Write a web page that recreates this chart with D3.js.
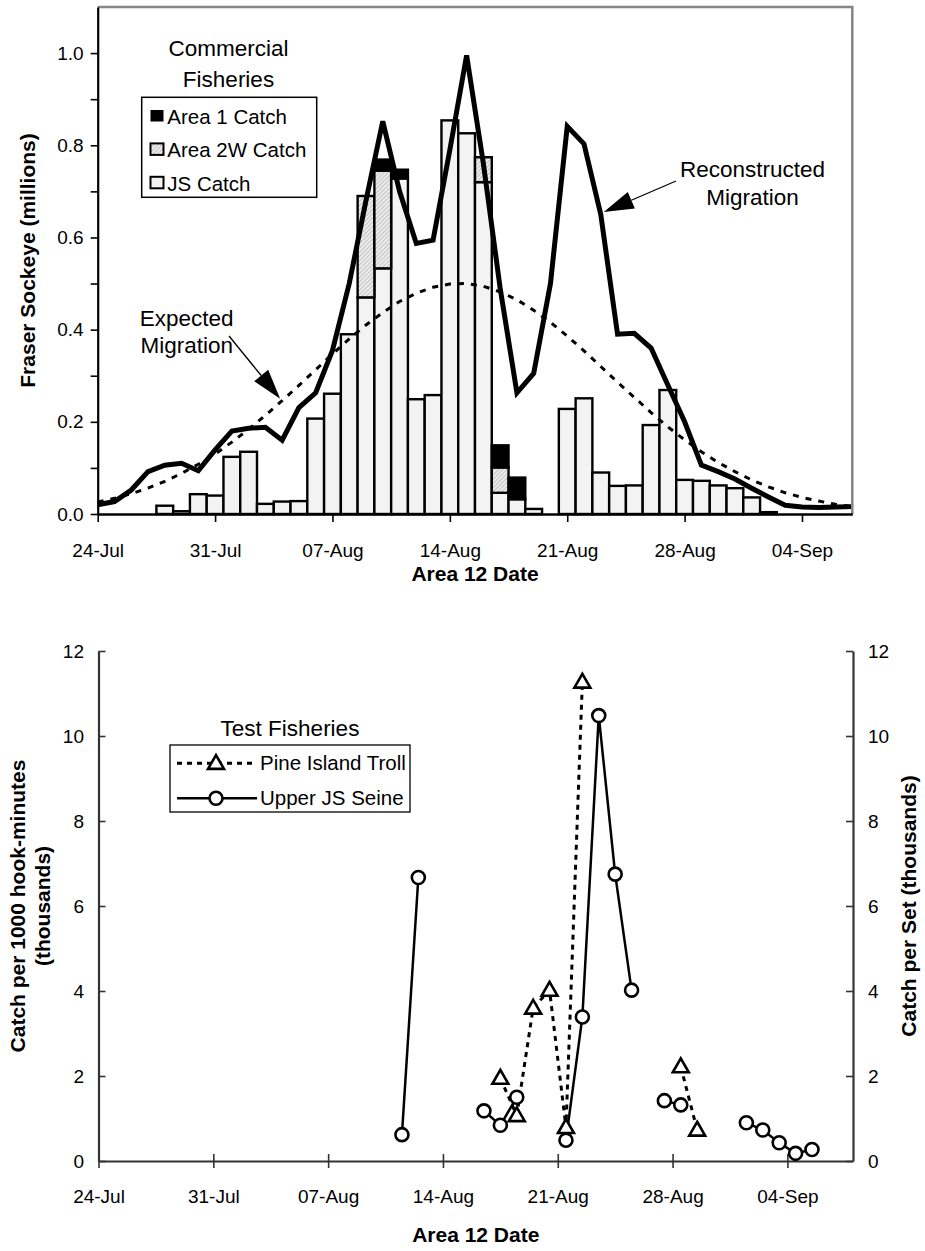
<!DOCTYPE html>
<html>
<head>
<meta charset="utf-8">
<script src="https://cdn.jsdelivr.net/npm/d3@7"></script>
<style>
  body { margin: 0; background: #fff; }
  svg text { font-family: "Liberation Sans", Arial, sans-serif; fill: #000; }
</style>
</head>
<body>
<div id="chart"></div>
<script>
// ---- data ----
var dayLabels = ["24-Jul","25-Jul","26-Jul","27-Jul","28-Jul","29-Jul","30-Jul","31-Jul",
  "01-Aug","02-Aug","03-Aug","04-Aug","05-Aug","06-Aug","07-Aug","08-Aug","09-Aug","10-Aug",
  "11-Aug","12-Aug","13-Aug","14-Aug","15-Aug","16-Aug","17-Aug","18-Aug","19-Aug","20-Aug",
  "21-Aug","22-Aug","23-Aug","24-Aug","25-Aug","26-Aug","27-Aug","28-Aug","29-Aug","30-Aug",
  "31-Aug","01-Sep","02-Sep","03-Sep","04-Sep","05-Sep","06-Sep","07-Sep"]

var jsCatch = [0,0,0,0,0.018,0.006,0.043,0.040,
  0.124,0.135,0.022,0.027,0.028,0.207,0.261,0.390,0.470,0.533,
  0.728,0.249,0.258,0.854,0.826,0.720,0.046,0.032,0.011,0,
  0.228,0.251,0.090,0.061,0.062,0.193,0.269,0.074,0.072,0.062,
  0.056,0.036,0.004,0,0,0,0,0]
var area2wCatch = [0,0,0,0,0,0,0,0,
  0,0,0,0,0,0,0,0,0.220,0.212,
  0,0,0,0,0,0.054,0.055,0,0,0,
  0,0,0,0,0,0,0,0,0,0,
  0,0,0,0,0,0,0,0]
var area1Catch = [0,0,0,0,0,0,0,0,
  0,0,0,0,0,0,0,0,0,0.024,
  0.019,0,0,0,0,0,0.048,0.047,0,0,
  0,0,0,0,0,0,0,0,0,0,
  0,0,0,0,0,0,0,0]
var reconstructed = [0.020,0.027,0.052,0.092,0.106,0.110,0.094,0.139,
  0.180,0.186,0.188,0.160,0.231,0.263,0.355,0.500,0.680,0.852,
  0.700,0.587,0.594,0.790,0.995,0.760,0.490,0.263,0.305,0.500,
  0.841,0.803,0.650,0.390,0.392,0.360,0.280,0.200,0.106,0.092,
  0.076,0.056,0.037,0.019,0.015,0.014,0.015,0.016]
var expected = [0.026,0.034,0.044,0.056,0.071,0.088,0.108,0.130,
  0.156,0.184,0.214,0.246,0.279,0.313,0.347,0.380,0.410,0.437,
  0.461,0.479,0.492,0.499,0.500,0.494,0.482,0.465,0.442,0.416,
  0.386,0.354,0.320,0.286,0.253,0.220,0.189,0.161,0.135,0.112,
  0.092,0.074,0.059,0.046,0.036,0.028,0.021,0.016]

var trollDays = ["17-Aug","18-Aug","19-Aug","20-Aug","21-Aug","22-Aug","23-Aug","24-Aug",
  "25-Aug","26-Aug","27-Aug","28-Aug","29-Aug"]
var trollCatch = [1.95,1.07,3.60,4.02,0.79,11.27,null,null,null,null,null,2.22,0.73]

var seineDays = ["11-Aug","12-Aug","13-Aug","14-Aug","15-Aug","16-Aug","17-Aug","18-Aug",
  "19-Aug","20-Aug","21-Aug","22-Aug","23-Aug","24-Aug","25-Aug","26-Aug","27-Aug","28-Aug",
  "29-Aug","30-Aug","31-Aug","01-Sep","02-Sep","03-Sep","04-Sep","05-Sep"]
var seineCatch = [0.62,6.67,null,null,null,1.18,0.84,1.50,
  null,null,0.49,3.39,10.48,6.75,4.02,null,1.42,1.32,
  null,null,null,0.90,0.73,0.43,0.18,0.27]

var dateTicks = ["24-Jul","31-Jul","07-Aug","14-Aug","21-Aug","28-Aug","04-Sep"]
var topYTicks = [0,0.1,0.2,0.3,0.4,0.5,0.6,0.7,0.8,0.9,1.0]
var botYTicks = [0,2,4,6,8,10,12]

var legendTop = [
  {key: "a1", label: "Area 1 Catch"},
  {key: "w2", label: "Area 2W Catch"},
  {key: "js", label: "JS Catch"}]
var legendBottom = ["Pine Island Troll", "Upper JS Seine"]

// ---- helpers ----
var parse = d3.timeParse("%d-%b-%Y")
function day(s) { return parse(s + "-2000") }
function noon(s) { return d3.timeHour.offset(day(s), 12) }

var width = 925, height = 1251
var svg = d3.select("#chart").append("svg")
  .attr("width", width).attr("height", height)

var defs = svg.append("defs")
var hatch = defs.append("pattern").attr("id", "hatch")
  .attr("width", 3).attr("height", 3)
  .attr("patternUnits", "userSpaceOnUse")
  .attr("patternTransform", "rotate(45)")
hatch.append("rect").attr("width", 3).attr("height", 3).attr("fill", "#ececec")
hatch.append("line").attr("x1", 0).attr("y1", 0).attr("x2", 0).attr("y2", 3)
  .attr("stroke", "#a8a8a8").attr("stroke-width", 1.2)

var fills = {js: "#f3f3f3", w2: "url(#hatch)", a1: "#000"}
var titleSize = 21

// ================= top chart =================
var xTop = d3.scaleTime().domain([day("24-Jul"), day("07-Sep")]).range([97.7, 852.3])
var yTop = d3.scaleLinear().domain([0, 1.1]).range([514, 7])
var bw = xTop(day("25-Jul")) - xTop(day("24-Jul"))

var rows = dayLabels.map(function (s, i) {
  return {day: day(s), js: jsCatch[i], w2: area2wCatch[i], a1: area1Catch[i]}
})
var stacked = d3.stack().keys(["js", "w2", "a1"])(rows)

var gTop = svg.append("g")

gTop.selectAll("g.series")
  .data(stacked)
  .join("g")
  .attr("class", "series")
  .attr("fill", function (s) { return fills[s.key] })
  .selectAll("rect")
  .data(function (s) { return s.filter(function (p) { return p[1] - p[0] > 0 }) })
  .join("rect")
  .attr("x", function (p) { return xTop(p.data.day) - bw / 2 })
  .attr("width", bw)
  .attr("y", function (p) { return yTop(p[1]) })
  .attr("height", function (p) { return yTop(p[0]) - yTop(p[1]) })
  .attr("stroke", "#000")
  .attr("stroke-width", 2.4)

var lineTop = function (vals) {
  return d3.line()
    .x(function (v, i) { return xTop(day(dayLabels[i])) })
    .y(function (v) { return yTop(v) })(vals)
}

gTop.append("path")
  .attr("d", lineTop(expected))
  .attr("fill", "none").attr("stroke", "#000")
  .attr("stroke-width", 3).attr("stroke-dasharray", "6,7")

gTop.append("path")
  .attr("d", lineTop(reconstructed))
  .attr("fill", "none").attr("stroke", "#000")
  .attr("stroke-width", 5).attr("stroke-linejoin", "miter")

// frame (top/right grey)
gTop.append("path")
  .attr("d", "M" + xTop.range()[0] + "," + yTop(1.1) + "H" + xTop.range()[1] + "V" + yTop(0))
  .attr("fill", "none").attr("stroke", "#858585").attr("stroke-width", 2.5)

// y axis
var yAxisTop = gTop.append("g")
  .attr("transform", "translate(" + xTop.range()[0] + ",0)")
  .call(d3.axisLeft(yTop).tickValues(topYTicks).tickSize(7).tickSizeOuter(0)
    .tickFormat(function (v) { return Math.round(v * 10) % 2 === 0 ? d3.format(".1f")(v) : "" }))
yAxisTop.select(".domain").attr("stroke", "#000").attr("stroke-width", 2.2)
yAxisTop.selectAll(".tick line").attr("stroke", "#000").attr("stroke-width", 1.6)
yAxisTop.selectAll("text").attr("x", -14).attr("font-size", 19)
  .attr("font-family", "Liberation Sans, Arial, sans-serif")

// x axis
var xAxisTop = gTop.append("g")
  .attr("transform", "translate(0," + yTop(0) + ")")
  .call(d3.axisBottom(xTop).tickValues(dateTicks.map(day)).tickSize(8).tickSizeOuter(0)
    .tickFormat(d3.timeFormat("%d-%b")))
xAxisTop.select(".domain").attr("stroke", "#000").attr("stroke-width", 2.4)
xAxisTop.selectAll(".tick line").attr("stroke", "#000").attr("stroke-width", 1.6)
xAxisTop.selectAll("text").attr("y", 36).attr("dy", "0.35em").attr("font-size", 19)
  .attr("font-family", "Liberation Sans, Arial, sans-serif")

gTop.append("text")
  .attr("x", (xTop.range()[0] + xTop.range()[1]) / 2).attr("y", 581)
  .attr("text-anchor", "middle").attr("font-weight", "bold").attr("font-size", titleSize)
  .text("Area 12 Date")
gTop.append("text")
  .attr("transform", "translate(35," + (yTop(0) + yTop(1.1)) / 2 + ") rotate(-90)")
  .attr("text-anchor", "middle").attr("font-weight", "bold").attr("font-size", titleSize)
  .text("Fraser Sockeye (millions)")

// legend
gTop.append("text").attr("x", 228.5).attr("y", 56).attr("text-anchor", "middle")
  .attr("font-size", 22.5).text("Commercial")
gTop.append("text").attr("x", 228.5).attr("y", 87).attr("text-anchor", "middle")
  .attr("font-size", 22.5).text("Fisheries")
gTop.append("rect").attr("x", 141.7).attr("y", 97.3).attr("width", 175).attr("height", 100)
  .attr("fill", "#fff").attr("stroke", "#000").attr("stroke-width", 1.5)
var lg = gTop.selectAll("g.leg").data(legendTop).join("g").attr("class", "leg")
  .attr("transform", function (d, i) { return "translate(0," + (116 + i * 33.4) + ")" })
lg.append("rect").attr("x", 150.5).attr("y", -6).attr("width", 13).attr("height", 11.5)
  .attr("fill", function (d) { return fills[d.key] })
  .attr("stroke", "#000").attr("stroke-width", function (d) { return d.key === "a1" ? 0 : 2 })
lg.append("text").attr("x", 167.3).attr("y", 8).attr("font-size", 20.5)
  .text(function (d) { return d.label })

// annotations with arrows
function arrow(g, tail, tip) {
  var dx = tip[0] - tail[0], dy = tip[1] - tail[1]
  var len = Math.sqrt(dx * dx + dy * dy), ux = dx / len, uy = dy / len
  var hl = 30, hw = 9
  var bx = tip[0] - ux * hl, by = tip[1] - uy * hl
  g.append("line").attr("x1", tail[0]).attr("y1", tail[1]).attr("x2", bx).attr("y2", by)
    .attr("stroke", "#000").attr("stroke-width", 1.3)
  g.append("path")
    .attr("d", "M" + tip[0] + "," + tip[1] +
      "L" + (bx - uy * hw) + "," + (by + ux * hw) +
      "L" + (bx + uy * hw) + "," + (by - ux * hw) + "Z")
    .attr("fill", "#000")
}

gTop.append("text").attr("x", 186.7).attr("y", 326).attr("text-anchor", "middle")
  .attr("font-size", 22.5).text("Expected")
gTop.append("text").attr("x", 186.7).attr("y", 353).attr("text-anchor", "middle")
  .attr("font-size", 22.5).text("Migration")
arrow(gTop, [229, 336], [xTop(day("04-Aug")) - 2, yTop(0.25)])

gTop.append("text").attr("x", 752.5).attr("y", 177).attr("text-anchor", "middle")
  .attr("font-size", 22.5).text("Reconstructed")
gTop.append("text").attr("x", 752.5).attr("y", 205).attr("text-anchor", "middle")
  .attr("font-size", 22.5).text("Migration")
arrow(gTop, [676, 181], [xTop(day("23-Aug")) + 3, yTop(0.655)])

// ================= bottom chart =================
var xBot = d3.scaleTime().domain([day("24-Jul"), day("08-Sep")]).range([98.5, 853])
var yBot = d3.scaleLinear().domain([0, 12]).range([1161, 651])
var gBot = svg.append("g")

// axes
var yAxisL = gBot.append("g").attr("transform", "translate(" + xBot.range()[0] + ",0)")
  .call(d3.axisRight(yBot).tickValues(botYTicks).tickSize(7).tickSizeOuter(0).tickFormat(""))
var yAxisR = gBot.append("g").attr("transform", "translate(" + xBot.range()[1] + ",0)")
  .call(d3.axisLeft(yBot).tickValues(botYTicks).tickSize(7).tickSizeOuter(0).tickFormat(""))
var xAxisB = gBot.append("g").attr("transform", "translate(0," + yBot(0) + ")")
  .call(d3.axisBottom(xBot).tickValues(dateTicks.map(day)).tickSize(7).tickSizeOuter(0)
    .tickFormat(d3.timeFormat("%d-%b")))
;[yAxisL, yAxisR, xAxisB].forEach(function (a) {
  a.select(".domain").attr("stroke", "#333").attr("stroke-width", 2.2)
  a.selectAll(".tick line").attr("stroke", "#333").attr("stroke-width", 1.6)
})
xAxisB.selectAll(".tick line").attr("y1", -7)
xAxisB.selectAll("text").attr("y", 35).attr("dy", "0.35em").attr("font-size", 19)
  .attr("font-family", "Liberation Sans, Arial, sans-serif")

gBot.selectAll("text.yl").data(botYTicks).join("text").attr("class", "yl")
  .attr("x", 84).attr("y", function (v) { return yBot(v) }).attr("dy", "0.35em")
  .attr("text-anchor", "end").attr("font-size", 19).text(function (v) { return v })
gBot.selectAll("text.yr").data(botYTicks).join("text").attr("class", "yr")
  .attr("x", 868).attr("y", function (v) { return yBot(v) }).attr("dy", "0.35em")
  .attr("text-anchor", "start").attr("font-size", 19).text(function (v) { return v })

gBot.append("text")
  .attr("x", (xBot.range()[0] + xBot.range()[1]) / 2).attr("y", 1242)
  .attr("text-anchor", "middle").attr("font-weight", "bold").attr("font-size", titleSize)
  .text("Area 12 Date")
var midB = (yBot(0) + yBot(12)) / 2
gBot.append("text").attr("transform", "translate(25," + midB + ") rotate(-90)")
  .attr("text-anchor", "middle").attr("font-weight", "bold").attr("font-size", titleSize)
  .text("Catch per 1000 hook-minutes")
gBot.append("text").attr("transform", "translate(50," + midB + ") rotate(-90)")
  .attr("text-anchor", "middle").attr("font-weight", "bold").attr("font-size", titleSize)
  .text("(thousands)")
gBot.append("text").attr("transform", "translate(916," + midB + ") rotate(-90)")
  .attr("text-anchor", "middle").attr("font-weight", "bold").attr("font-size", titleSize)
  .text("Catch per Set (thousands)")

// series
var trollPts = trollDays.map(function (s, i) { return {d: noon(s), v: trollCatch[i]} })
var seinePts = seineDays.map(function (s, i) { return {d: noon(s), v: seineCatch[i]} })
var lineBot = d3.line()
  .defined(function (p) { return p.v != null })
  .x(function (p) { return xBot(p.d) })
  .y(function (p) { return yBot(p.v) })

gBot.append("path").attr("d", lineBot(trollPts))
  .attr("fill", "none").attr("stroke", "#000").attr("stroke-width", 3)
  .attr("stroke-dasharray", "5,5")
gBot.append("path").attr("d", lineBot(seinePts))
  .attr("fill", "none").attr("stroke", "#000").attr("stroke-width", 2.5)

var tri = d3.symbol().type(d3.symbolTriangle).size(110)
gBot.selectAll("path.tri").data(trollPts.filter(function (p) { return p.v != null }))
  .join("path").attr("class", "tri")
  .attr("d", tri)
  .attr("transform", function (p) { return "translate(" + xBot(p.d) + "," + (yBot(p.v) + 1) + ")" })
  .attr("fill", "#fff").attr("stroke", "#000").attr("stroke-width", 2.6)
gBot.selectAll("circle.pt").data(seinePts.filter(function (p) { return p.v != null }))
  .join("circle").attr("class", "pt")
  .attr("cx", function (p) { return xBot(p.d) })
  .attr("cy", function (p) { return yBot(p.v) })
  .attr("r", 6.5)
  .attr("fill", "#fff").attr("stroke", "#000").attr("stroke-width", 2.6)

// legend
gBot.append("text").attr("x", 290).attr("y", 736).attr("text-anchor", "middle")
  .attr("font-size", 22.5).text("Test Fisheries")
gBot.append("rect").attr("x", 170).attr("y", 745).attr("width", 240).attr("height", 67)
  .attr("fill", "#fff").attr("stroke", "#000").attr("stroke-width", 1.3)
var lb = gBot.selectAll("g.legb").data(legendBottom).join("g").attr("class", "legb")
  .attr("transform", function (d, i) { return "translate(0," + (763.3 + i * 35) + ")" })
lb.append("line").attr("x1", 177).attr("x2", 257).attr("y1", 0).attr("y2", 0)
  .attr("stroke", "#000")
  .attr("stroke-width", function (d, i) { return i === 0 ? 3 : 2.5 })
  .attr("stroke-dasharray", function (d, i) { return i === 0 ? "5,5" : null })
lb.filter(function (d, i) { return i === 0 }).append("path").attr("d", tri)
  .attr("transform", "translate(216,1)")
  .attr("fill", "#fff").attr("stroke", "#000").attr("stroke-width", 2.6)
lb.filter(function (d, i) { return i === 1 }).append("circle").attr("cx", 216).attr("r", 6.5)
  .attr("fill", "#fff").attr("stroke", "#000").attr("stroke-width", 2.6)
lb.append("text").attr("x", 260).attr("y", 0).attr("dy", "0.35em").attr("font-size", 20.5)
  .text(function (d) { return d })
</script>
</body>
</html>
